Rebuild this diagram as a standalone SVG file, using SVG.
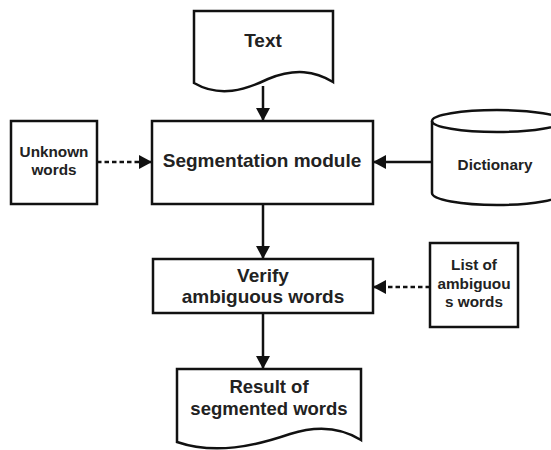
<svg xmlns="http://www.w3.org/2000/svg" width="551" height="450" viewBox="0 0 551 450">
<defs>
<style>
.shape{fill:#fff;stroke:#111;stroke-width:2.5}
.conn{fill:none;stroke:#111;stroke-width:2.5}
.dash{stroke-dasharray:4.5 3}
.t{font-family:"Liberation Sans",Arial,sans-serif;font-weight:bold;fill:#222;text-anchor:middle}
.big{font-size:19px}
.sm{font-size:15.3px}
</style>
<marker id="ah" markerWidth="14" markerHeight="14" refX="13" refY="7" orient="auto" markerUnits="userSpaceOnUse">
<path d="M0,0 L13,7 L0,14 Z" fill="#111"/>
</marker>
</defs>
<rect width="551" height="450" fill="#fff"/>
<g id="connectors">
<line class="conn" x1="263" y1="86" x2="263" y2="121" marker-end="url(#ah)"/>
<line class="conn dash" x1="97" y1="162" x2="152" y2="162" marker-end="url(#ah)"/>
<line class="conn" x1="432" y1="162" x2="373" y2="162" marker-end="url(#ah)"/>
<line class="conn" x1="263" y1="204" x2="263" y2="259" marker-end="url(#ah)"/>
<line class="conn dash" x1="430" y1="287" x2="373" y2="287" marker-end="url(#ah)"/>
<line class="conn" x1="263" y1="313" x2="263" y2="369" marker-end="url(#ah)"/>
</g>
<g id="text-doc">
<path class="shape" d="M194,11 H333 V82 C315,71 295,68 268,79 C245,90 220,98 194,83 Z"/>
<text class="t big" x="263" y="47">Text</text>
</g>
<g id="unknown-words">
<rect class="shape" x="11" y="121" width="86" height="83"/>
<text class="t sm" x="54" y="157">Unknown</text>
<text class="t sm" x="54" y="175">words</text>
</g>
<g id="segmentation">
<rect class="shape" x="152" y="121" width="221" height="83"/>
<text class="t big" x="262" y="167">Segmentation module</text>
</g>
<g id="dictionary">
<path class="shape" d="M432,121 A65,11 0 0 1 562,121 V193 A65,12 0 0 1 432,193 Z"/>
<path class="conn" d="M432,121 A65,11 0 0 0 562,121"/>
<text class="t sm" x="495" y="170">Dictionary</text>
</g>
<g id="verify">
<rect class="shape" x="153" y="259" width="220" height="54"/>
<text class="t big" x="263" y="282">Verify</text>
<text class="t big" x="263" y="303">ambiguous words</text>
</g>
<g id="ambiguous-list">
<rect class="shape" x="430" y="243" width="88" height="84"/>
<text class="t sm" x="474" y="270">List of</text>
<text class="t sm" x="474" y="289">ambiguou</text>
<text class="t sm" x="474" y="307">s words</text>
</g>
<g id="result-doc">
<path class="shape" d="M177,369 H361 V440 C342,428 318,425 290,434 C255,446 215,455 177,442 Z"/>
<text class="t" style="font-size:18.5px" x="269" y="393">Result of</text>
<text class="t" style="font-size:18.5px" x="269" y="415">segmented words</text>
</g>
</svg>
